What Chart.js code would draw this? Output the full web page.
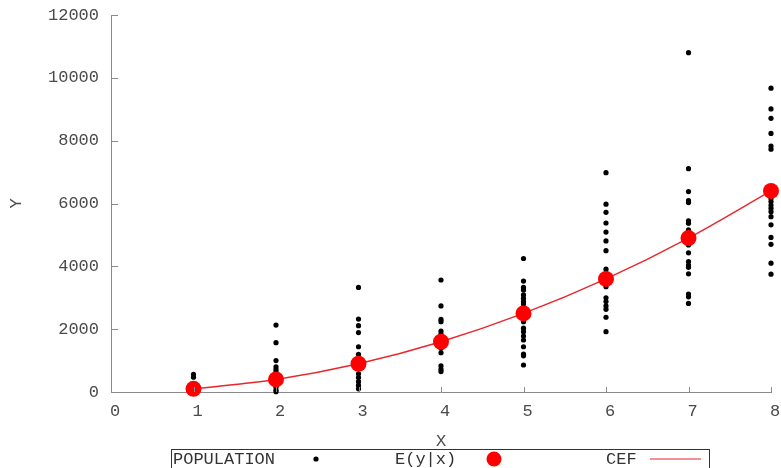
<!DOCTYPE html>
<html>
<head>
<meta charset="utf-8">
<script src="https://cdn.jsdelivr.net/npm/chart.js@4/dist/chart.umd.min.js"></script>
<style>
  html, body { margin: 0; padding: 0; background: #fff; }
  #wrap { width: 781px; height: 468px; position: relative; }
</style>
</head>
<body>
<div id="wrap"><canvas id="c" width="781" height="468"></canvas></div>
<script>
// ---- data ----
const xValues = [1, 2, 3, 4, 5, 6, 7, 8];
const popAt1 = [560, 470, 150, 40];
const popAt2 = [2130, 1570, 1000, 800, 720, 640, 500, 300, 150, 60, 10];
const popAt3 = [3330, 2320, 2110, 1890, 1440, 1200, 1000, 800, 580, 460, 330, 210, 100];
const popAt4 = [3565, 2740, 2310, 2240, 1940, 1850, 1710, 1500, 1390, 1250, 830, 720, 650];
const popAt5 = [4250, 3530, 3330, 3250, 3090, 2980, 2880, 2800, 2600, 2400, 2240, 2030, 1920, 1780, 1655, 1440, 1210, 1150, 860];
const popAt6 = [6980, 5980, 5720, 5380, 5090, 4810, 4500, 3910, 3780, 3550, 3350, 3000, 2880, 2740, 2630, 2380, 1920];
const popAt7 = [10800, 7110, 6380, 6090, 6030, 5450, 5370, 5160, 4680, 4430, 4150, 4040, 3970, 3760, 3120, 3030, 2820];
const popAt8 = [9670, 9010, 8710, 8230, 7830, 7730, 6160, 6060, 5950, 5850, 5740, 5580, 5320, 4920, 4700, 4100, 3750];
const condMean = [100, 400, 900, 1600, 2500, 3600, 4900, 6400];
const yTickValues = [0, 2000, 4000, 6000, 8000, 10000, 12000];
const xTickValues = [0, 1, 2, 3, 4, 5, 6, 7, 8];
const legendLabels = ['POPULATION', 'E(y|x)', 'CEF'];

const popGroups = [popAt1, popAt2, popAt3, popAt4, popAt5, popAt6, popAt7, popAt8];
const populationPoints = [];
popGroups.forEach((arr, i) => arr.forEach(v => populationPoints.push({ x: xValues[i], y: v })));
const meanPoints = xValues.map((x, i) => ({ x: x, y: condMean[i] }));

const FONT = "'Liberation Mono', 'Courier New', monospace";
const AXIS_COLOR = '#8a8a8a';
const TEXT_COLOR = '#4a4a4a';

// inward tick marks drawn from the scales
const innerTicks = {
  id: 'innerTicks',
  afterDraw(chart) {
    const ctx = chart.ctx, xs = chart.scales.x, ys = chart.scales.y;
    const a = chart.chartArea;
    ctx.save();
    ctx.strokeStyle = AXIS_COLOR;
    ctx.lineWidth = 1;
    ctx.beginPath();
    xs.ticks.forEach(t => {
      const px = Math.round(xs.getPixelForValue(t.value)) + 0.5;
      ctx.moveTo(px, a.bottom);
      ctx.lineTo(px, a.bottom - 5);
    });
    ys.ticks.forEach(t => {
      const py = Math.round(ys.getPixelForValue(t.value)) + 0.5;
      ctx.moveTo(a.left, py);
      ctx.lineTo(a.left + 7, py);
    });
    ctx.stroke();
    ctx.restore();
  }
};

// gnuplot-style key: text first, then the sample
const keyBox = {
  id: 'keyBox',
  afterDraw(chart) {
    const ctx = chart.ctx;
    const ds = chart.data.datasets;
    ctx.save();
    ctx.strokeStyle = '#333';
    ctx.lineWidth = 1;
    ctx.strokeRect(171.5, 449.5, 538, 30);
    ctx.font = '17px ' + FONT;
    ctx.fillStyle = '#333';
    ctx.textBaseline = 'middle';
    ctx.textAlign = 'left';
    const yMid = 459;
    ctx.fillText(legendLabels[0], 173, yMid);
    ctx.fillText(legendLabels[1], 395, yMid);
    ctx.fillText(legendLabels[2], 606, yMid);
    ctx.fillStyle = ds[0].backgroundColor;
    ctx.beginPath(); ctx.arc(316, yMid, 2.6, 0, Math.PI * 2); ctx.fill();
    ctx.fillStyle = ds[1].backgroundColor;
    ctx.beginPath(); ctx.arc(494, yMid, 7.5, 0, Math.PI * 2); ctx.fill();
    ctx.strokeStyle = ds[2].borderColor;
    ctx.lineWidth = 1.2;
    ctx.beginPath(); ctx.moveTo(650, yMid); ctx.lineTo(701, yMid); ctx.stroke();
    ctx.restore();
  }
};

new Chart(document.getElementById('c'), {
  type: 'scatter',
  data: {
    datasets: [
      {
        label: legendLabels[0],
        data: populationPoints,
        backgroundColor: '#000',
        borderWidth: 0,
        pointRadius: 2.6,
        clip: false,
        order: 3
      },
      {
        label: legendLabels[1],
        data: meanPoints,
        backgroundColor: '#ff0000',
        borderWidth: 0,
        pointRadius: 8,
        clip: false,
        order: 1
      },
      {
        label: legendLabels[2],
        type: 'line',
        data: meanPoints,
        borderColor: '#e8262b',
        borderWidth: 1.4,
        pointRadius: 0,
        fill: false,
        showLine: true,
        cubicInterpolationMode: 'monotone',
        clip: false,
        order: 2
      }
    ]
  },
  options: {
    responsive: false,
    animation: false,
    layout: { padding: { top: 15, right: 10, left: 0, bottom: 0 } },
    plugins: { legend: { display: false }, tooltip: { enabled: false } },
    scales: {
      x: {
        type: 'linear',
        min: 0, max: 8,
        afterBuildTicks(s) { s.ticks = xTickValues.map(v => ({ value: v })); },
        afterFit(s) { s.height = 76; s.paddingLeft = 0; s.paddingRight = 0; },
        grid: { display: false, drawTicks: false },
        border: { display: true, color: AXIS_COLOR, width: 1 },
        ticks: { color: TEXT_COLOR, font: { family: FONT, size: 17 }, padding: 9, labelOffset: 4, maxRotation: 0,
                 callback: v => String(v) },
        title: { display: true, text: 'X', color: TEXT_COLOR, font: { family: FONT, size: 17 }, padding: { top: 0, bottom: 16 } }
      },
      y: {
        type: 'linear',
        min: 0, max: 12000,
        afterBuildTicks(s) { s.ticks = yTickValues.map(v => ({ value: v })); },
        afterFit(s) { s.width = 111; s.paddingTop = 0; s.paddingBottom = 0; },
        grid: { display: false, drawTicks: false },
        border: { display: true, color: AXIS_COLOR, width: 1 },
        ticks: { color: TEXT_COLOR, font: { family: FONT, size: 17 }, padding: 12,
                 callback: v => String(v) },
        title: { display: true, text: 'Y', color: TEXT_COLOR, font: { family: FONT, size: 17 }, padding: { top: 6, bottom: 0 } }
      }
    }
  },
  plugins: [innerTicks, keyBox]
});
</script>
</body>
</html>
